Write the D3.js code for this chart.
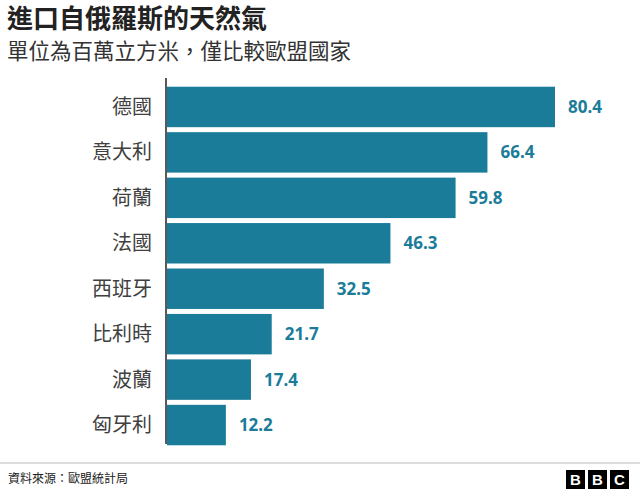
<!DOCTYPE html>
<html><head><meta charset="utf-8">
<script src="https://cdn.jsdelivr.net/npm/d3@7"></script>
<style>body{margin:0;background:#fff}</style></head>
<body><svg id="c" width="640" height="494"></svg>
<script>
const categories=["德國","意大利","荷蘭","法國","西班牙","比利時","波蘭","匈牙利"];
const values=[80.4,66.4,59.8,46.3,32.5,21.7,17.4,12.2];
const svg=d3.select("#c");
const F="'Noto Sans CJK TC','Noto Sans',sans-serif";
svg.append("text").attr("x",7).attr("y",28).attr("font-family",F).attr("font-size",26).attr("font-weight",700).attr("fill","#222").text("進口自俄羅斯的天然氣");
svg.append("text").attr("x",7).attr("y",59).attr("font-family",F).attr("font-size",21.5).attr("fill","#333").text("單位為百萬立方米，僅比較歐盟國家");
const x=d3.scaleLinear().domain([0,80.4]).range([167,555]);
const y=d3.scaleBand().domain(categories).range([84,448]).paddingInner(0.11).paddingOuter(0.06);
svg.selectAll("rect.b").data(values).join("rect").attr("x",x(0)).attr("y",(d,i)=>y(categories[i])).attr("width",d=>x(d)-x(0)).attr("height",y.bandwidth()).attr("fill","#1b7c99");
svg.selectAll("text.v").data(values).join("text").attr("x",d=>x(d)+13).attr("y",(d,i)=>y(categories[i])+y.bandwidth()/2+6).attr("font-family","'Noto Sans',sans-serif").attr("font-size",17).attr("font-weight",700).attr("fill","#1b7c99").text(d=>d.toFixed(1));
svg.selectAll("text.c").data(categories).join("text").attr("x",152).attr("text-anchor","end").attr("y",d=>y(d)+y.bandwidth()/2+7).attr("font-family",F).attr("font-size",20).attr("fill","#404040").text(d=>d);
svg.append("line").attr("x1",166).attr("x2",166).attr("y1",78).attr("y2",444).attr("stroke","#222").attr("stroke-width",1.5);
svg.append("line").attr("x1",0).attr("x2",640).attr("y1",463).attr("y2",463).attr("stroke","#bbb");
svg.append("text").attr("x",8).attr("y",483).attr("font-family",F).attr("font-size",12).attr("fill","#222").text("資料來源：歐盟統計局");
["B","B","C"].forEach((l,i)=>{const gx=566+i*22;
svg.append("rect").attr("x",gx).attr("y",470).attr("width",19).attr("height",19).attr("fill","#000");
svg.append("text").attr("x",gx+9.5).attr("y",485).attr("text-anchor","middle").attr("font-family","'Liberation Sans',Arial,sans-serif").attr("font-weight",700).attr("font-size",15).attr("fill","#fff").text(l);});
</script></body></html>
